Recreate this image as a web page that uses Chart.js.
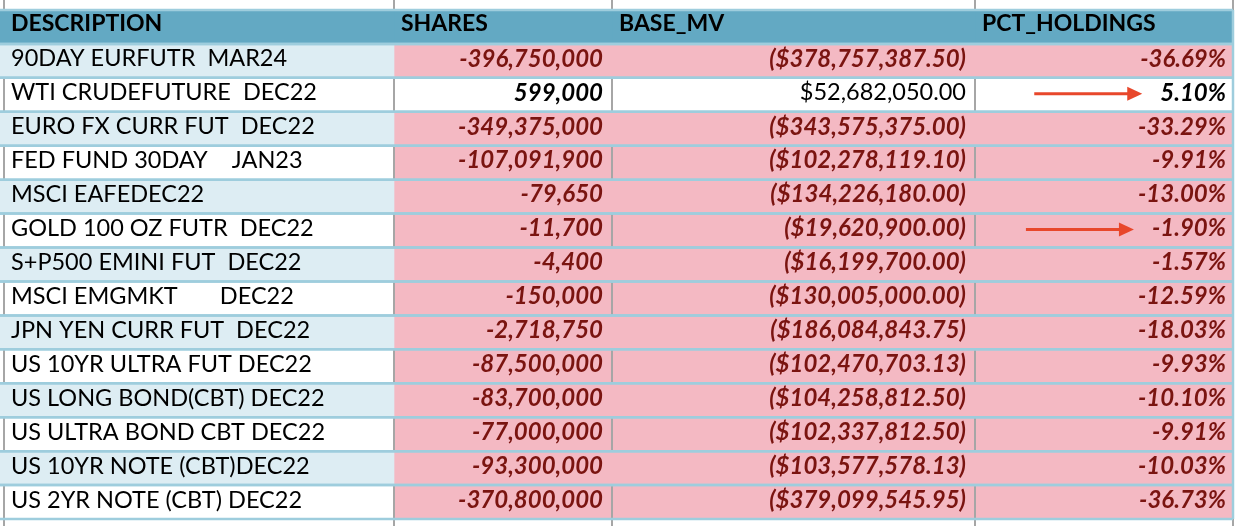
<!DOCTYPE html>
<html>
<head>
<meta charset="utf-8">
<script src="https://cdn.jsdelivr.net/npm/chart.js@4"></script>
<style>
  html, body { margin: 0; padding: 0; background: #fff; }
  #wrap { width: 1244px; height: 526px; }
</style>
</head>
<body>
<div id="wrap"><canvas id="tbl" width="1244" height="526"></canvas></div>
<script>
// column headers
var columns = ['DESCRIPTION', 'SHARES', 'BASE_MV', 'PCT_HOLDINGS'];

var descriptions = [
	'90DAY EURFUTR  MAR24',
	'WTI CRUDEFUTURE  DEC22',
	'EURO FX CURR FUT  DEC22',
	'FED FUND 30DAY    JAN23',
	'MSCI EAFEDEC22',
	'GOLD 100 OZ FUTR  DEC22',
	'S+P500 EMINI FUT  DEC22',
	'MSCI EMGMKT       DEC22',
	'JPN YEN CURR FUT  DEC22',
	'US 10YR ULTRA FUT DEC22',
	'US LONG BOND(CBT) DEC22',
	'US ULTRA BOND CBT DEC22',
	'US 10YR NOTE (CBT)DEC22',
	'US 2YR NOTE (CBT) DEC22'
];

var shares = [-396750000, 599000, -349375000, -107091900, -79650, -11700, -4400,
	-150000, -2718750, -87500000, -83700000, -77000000, -93300000, -370800000];

var baseMv = [-378757387.50, 52682050.00, -343575375.00, -102278119.10, -134226180.00,
	-19620900.00, -16199700.00, -130005000.00, -186084843.75, -102470703.13,
	-104258812.50, -102337812.50, -103577578.13, -379099545.95];

var pctHoldings = [-36.69, 5.10, -33.29, -9.91, -13.00, -1.90, -1.57,
	-12.59, -18.03, -9.93, -10.10, -9.91, -10.03, -36.73];

// rows marked with an arrow in the pct column
var arrowRows = ['WTI CRUDEFUTURE  DEC22', 'GOLD 100 OZ FUTR  DEC22'];

// layout: column edges in px (x scale runs 0..1244)
var colEdges = [4, 394, 612, 975, 1233];

var FONT = 'Lato';
var F_HEAD = 'bold 23px ' + FONT;
var F_TEXT = '23.5px ' + FONT;
var F_NUM = 'italic bold 24px ' + FONT;
var C_HEAD = '#63a9c3';
var C_BLUE = '#ddedf3';
var C_PINK = '#f4b9c3';
var C_RED = '#7a1410';
var C_LINE = '#9ecddd';
var C_GRID = '#a6a6a6';
var C_ARROW = '#e8472b';

function fmtInt(v) {
	return v.toLocaleString('en-US');
}
function fmtMoney(v) {
	var s = '$' + Math.abs(v).toLocaleString('en-US', {minimumFractionDigits: 2, maximumFractionDigits: 2});
	return v < 0 ? '(' + s + ')' : s;
}
function fmtPct(v) {
	return v.toFixed(2) + '%';
}

var rowLabels = ['header'].concat(descriptions);

function cellColor(row, col) {
	if (row === 0) return C_HEAD;
	var i = row - 1;
	if (col === 0) return (i % 2 === 0) ? C_BLUE : '#ffffff';
	return shares[i] < 0 ? C_PINK : '#ffffff';
}

var datasets = [];
for (var c = 0; c < columns.length; c++) {
	(function(col) {
		datasets.push({
			label: columns[col],
			data: rowLabels.map(function() {
				return [col === 0 ? 0 : colEdges[col], colEdges[col + 1]];
			}),
			backgroundColor: function(ctx) { return cellColor(ctx.dataIndex, col); },
			borderWidth: 0,
			borderSkipped: false,
			barPercentage: 1,
			categoryPercentage: 1,
			grouped: false
		});
	})(c);
}

var tablePlugin = {
	id: 'tableText',
	afterDatasetsDraw: function(chart) {
		var ctx = chart.ctx;
		var xs = chart.scales.x;
		var area = chart.chartArea;
		var bars = chart.getDatasetMeta(0).data;
		ctx.save();

		// sheet gridlines outside the table (top and bottom strip)
		ctx.strokeStyle = C_GRID;
		ctx.lineWidth = 2;
		colEdges.forEach(function(e) {
			var x = Math.round(xs.getPixelForValue(e));
			ctx.beginPath();
			ctx.moveTo(x, 0); ctx.lineTo(x, area.top);
			ctx.moveTo(x, area.bottom); ctx.lineTo(x, chart.height);
			ctx.stroke();
		});

		// vertical gridlines show in the white banded rows
		for (var r = 1; r < bars.length; r++) {
			if ((r - 1) % 2 === 0) continue;
			var b = bars[r];
			var top = b.y - b.height / 2, bot = b.y + b.height / 2;
			colEdges.forEach(function(e) {
				var x = Math.round(xs.getPixelForValue(e));
				ctx.beginPath();
				ctx.moveTo(x, top); ctx.lineTo(x, bot);
				ctx.stroke();
			});
		}

		// row separators
		ctx.strokeStyle = C_LINE;
		ctx.lineWidth = 2.5;
		var right = xs.getPixelForValue(colEdges[colEdges.length - 1]);
		for (var r2 = 0; r2 < bars.length; r2++) {
			var b2 = bars[r2];
			[b2.y - b2.height / 2, b2.y + b2.height / 2].forEach(function(y) {
				ctx.beginPath();
				ctx.moveTo(0, y); ctx.lineTo(right, y);
				ctx.stroke();
			});
		}
		ctx.beginPath();
		ctx.moveTo(right, area.top); ctx.lineTo(right, area.bottom);
		ctx.stroke();

		// header text
		ctx.textBaseline = 'middle';
		ctx.fillStyle = '#000';
		ctx.font = F_HEAD;
		ctx.textAlign = 'left';
		columns.forEach(function(t, k) {
			ctx.fillText(t, xs.getPixelForValue(colEdges[k]) + 7, bars[0].y - 3);
		});

		// body text
		for (var r3 = 1; r3 < bars.length; r3++) {
			var j = r3 - 1;
			var y = bars[r3].y - 2;
			var neg = shares[j] < 0;
			ctx.textAlign = 'left';
			ctx.fillStyle = '#000';
			ctx.font = F_TEXT;
			ctx.fillText(descriptions[j], xs.getPixelForValue(colEdges[0]) + 7, y);

			ctx.textAlign = 'right';
			ctx.fillStyle = neg ? C_RED : '#000';
			ctx.font = F_NUM;
			ctx.fillText(fmtInt(shares[j]), xs.getPixelForValue(colEdges[2]) - 9, y);
			ctx.font = neg ? F_NUM : F_TEXT;
			ctx.fillText(fmtMoney(baseMv[j]), xs.getPixelForValue(colEdges[3]) - 9, y);
			ctx.font = F_NUM;
			ctx.fillText(fmtPct(pctHoldings[j]), xs.getPixelForValue(colEdges[4]) - 7, y);

			if (arrowRows.indexOf(descriptions[j]) >= 0) {
				var tw = ctx.measureText(fmtPct(pctHoldings[j])).width;
				var xEnd = xs.getPixelForValue(colEdges[4]) - 7 - tw - 18;
				var xStart = xEnd - 108;
				var ya = y + 1;
				ctx.strokeStyle = C_ARROW;
				ctx.fillStyle = C_ARROW;
				ctx.lineWidth = 3;
				ctx.beginPath();
				ctx.moveTo(xStart, ya); ctx.lineTo(xEnd - 12, ya);
				ctx.stroke();
				ctx.beginPath();
				ctx.moveTo(xEnd, ya);
				ctx.lineTo(xEnd - 15, ya - 7);
				ctx.lineTo(xEnd - 15, ya + 7);
				ctx.closePath();
				ctx.fill();
			}
		}
		ctx.restore();
	}
};

var ctxT = document.getElementById('tbl').getContext('2d');
window.myTable = new Chart(ctxT, {
	type: 'bar',
	data: {
		labels: rowLabels,
		datasets: datasets
	},
	options: {
		indexAxis: 'y',
		responsive: false,
		animation: false,
		layout: { padding: { top: 10, bottom: 7, left: 0, right: 0 } },
		plugins: {
			legend: { display: false },
			tooltip: { enabled: false }
		},
		scales: {
			x: { type: 'linear', min: 0, max: 1244, display: false },
			y: { display: false }
		}
	},
	plugins: [tablePlugin]
});
</script>
</body>
</html>
